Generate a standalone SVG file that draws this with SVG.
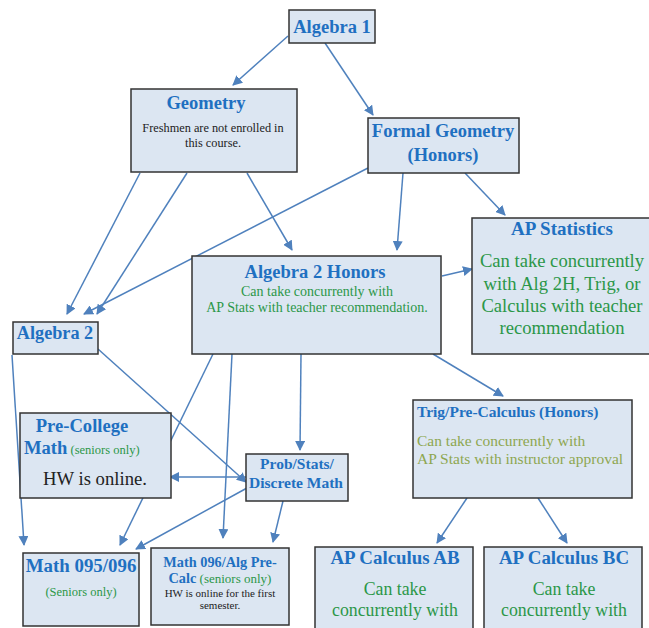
<svg xmlns="http://www.w3.org/2000/svg" width="649" height="628" viewBox="0 0 649 628">
<style>
text{font-family:"Liberation Serif","Times New Roman",Tinos,"DejaVu Serif",serif}
.box{fill:#dce6f2;stroke:#333;stroke-width:1.5}
.t{font-weight:bold;fill:#1f70c1;text-anchor:middle}
.g{fill:#2b9748;text-anchor:middle}
.k{fill:#222;text-anchor:middle}
.o{fill:#8ea650}
.c line{stroke:#4f81bd;stroke-width:1.5;marker-end:url(#a)}
</style>
<defs>
<marker id="a" viewBox="0 0 10 10" refX="9" refY="5" markerWidth="10" markerHeight="10" orient="auto" markerUnits="userSpaceOnUse"><path d="M0,0L10,5L0,10z" fill="#4f81bd"/></marker>
</defs>
<rect width="649" height="628" fill="#fff"/>
<g class="c">
<line x1="288" y1="36" x2="233" y2="85"/>
<line x1="325" y1="43" x2="373" y2="115"/>
<line x1="140" y1="173" x2="67" y2="314"/>
<line x1="187" y1="173" x2="97" y2="314"/>
<line x1="368" y1="168" x2="84" y2="314"/>
<line x1="247" y1="173" x2="292" y2="250"/>
<line x1="403" y1="173" x2="397" y2="250"/>
<line x1="465" y1="173" x2="505" y2="215"/>
<line x1="442" y1="276" x2="472" y2="269"/>
<line x1="12" y1="355" x2="24" y2="545"/>
<line x1="98" y1="349" x2="246" y2="482"/>
<line x1="246" y1="477" x2="170" y2="477"/>
<line x1="213" y1="354" x2="120" y2="545"/>
<line x1="232" y1="354" x2="223" y2="538"/>
<line x1="301" y1="354" x2="300" y2="450"/>
<line x1="433" y1="354" x2="503" y2="396"/>
<line x1="247" y1="488" x2="136" y2="549"/>
<line x1="283" y1="501" x2="273" y2="542"/>
<line x1="467" y1="498" x2="437" y2="543"/>
<line x1="538" y1="498" x2="567" y2="543"/>
</g>
<g id="algebra1"><rect class="box" x="289" y="10" width="86" height="33"/><text class="t" x="332" y="33" font-size="18.5">Algebra 1</text></g>
<g id="geometry"><rect class="box" x="131" y="89" width="166" height="83"/><text class="t" x="206" y="109" font-size="18.5">Geometry</text><text class="k" x="213" y="132" font-size="12.3">Freshmen are not enrolled in</text><text class="k" x="213" y="147" font-size="12.3">this course.</text></g>
<g id="formal"><rect class="box" x="368" y="118" width="151" height="55"/><text class="t" x="443" y="137" font-size="18.5">Formal Geometry</text><text class="t" x="443" y="161" font-size="18.5">(Honors)</text></g>
<g id="algebra2"><rect class="box" x="13" y="322" width="85" height="32"/><text class="t" x="55" y="339" font-size="18.2">Algebra 2</text></g>
<g id="alg2h"><rect class="box" x="192" y="256" width="249" height="98"/><text class="t" x="315" y="278" font-size="18.5">Algebra 2 Honors</text><text class="g" x="317" y="296" font-size="14">Can take concurrently with</text><text class="g" x="317" y="312" font-size="14">AP Stats with teacher recommendation.</text></g>
<g id="apstats"><rect class="box" x="472" y="218" width="180" height="136"/><text class="t" x="562" y="235" font-size="19">AP Statistics</text><text class="g" x="562" y="267" font-size="18.6">Can take concurrently</text><text class="g" x="562" y="290" font-size="18.6">with Alg 2H, Trig, or</text><text class="g" x="562" y="312" font-size="18.6">Calculus with teacher</text><text class="g" x="562" y="334" font-size="18.6">recommendation</text></g>
<g id="precollege"><rect class="box" x="20" y="413" width="151" height="85"/><text class="t" x="82" y="432" font-size="18.6">Pre-College</text><text x="24" y="454"><tspan fill="#1f70c1" font-weight="bold" font-size="18.6">Math</tspan><tspan fill="#2b9748" font-size="12.5"> (seniors only)</tspan></text><text class="k" x="95" y="485" font-size="18.7" fill="#111">HW is online.</text></g>
<g id="probstats"><rect class="box" x="246" y="454" width="102" height="47"/><text class="t" x="297" y="469" font-size="15.5">Prob/Stats/</text><text class="t" x="296" y="488" font-size="15.5">Discrete Math</text></g>
<g id="trig"><rect class="box" x="413" y="400" width="219" height="98"/><text class="t" x="417" y="417" font-size="15.5" style="text-anchor:start">Trig/Pre-Calculus (Honors)</text><text class="o" x="417" y="446" font-size="15.5">Can take concurrently with</text><text class="o" x="417" y="464" font-size="15.5">AP Stats with instructor approval</text></g>
<g id="math095"><rect class="box" x="23" y="553" width="116" height="73"/><text class="t" x="81" y="572" font-size="18.9">Math 095/096</text><text class="g" x="81" y="596" font-size="12.5">(Seniors only)</text></g>
<g id="math096"><rect class="box" x="151" y="548" width="138" height="77"/><text class="t" x="220" y="567" font-size="14.3">Math 096/Alg Pre-</text><text x="220" y="583" text-anchor="middle"><tspan fill="#1f70c1" font-weight="bold" font-size="14.3">Calc</tspan><tspan fill="#2b9748" font-size="13"> (seniors only)</tspan></text><text class="k" x="220" y="597" font-size="11">HW is online for the first</text><text class="k" x="220" y="609" font-size="11">semester.</text></g>
<g id="calcab"><rect class="box" x="315" y="547" width="158" height="85"/><text class="t" x="395" y="564" font-size="18.9">AP Calculus AB</text><text class="g" x="395" y="595" font-size="17.8">Can take</text><text class="g" x="395" y="616" font-size="17.8">concurrently with</text></g>
<g id="calcbc"><rect class="box" x="484" y="547" width="158" height="85"/><text class="t" x="564" y="564" font-size="18.9">AP Calculus BC</text><text class="g" x="564" y="595" font-size="17.8">Can take</text><text class="g" x="564" y="616" font-size="17.8">concurrently with</text></g>
</svg>
